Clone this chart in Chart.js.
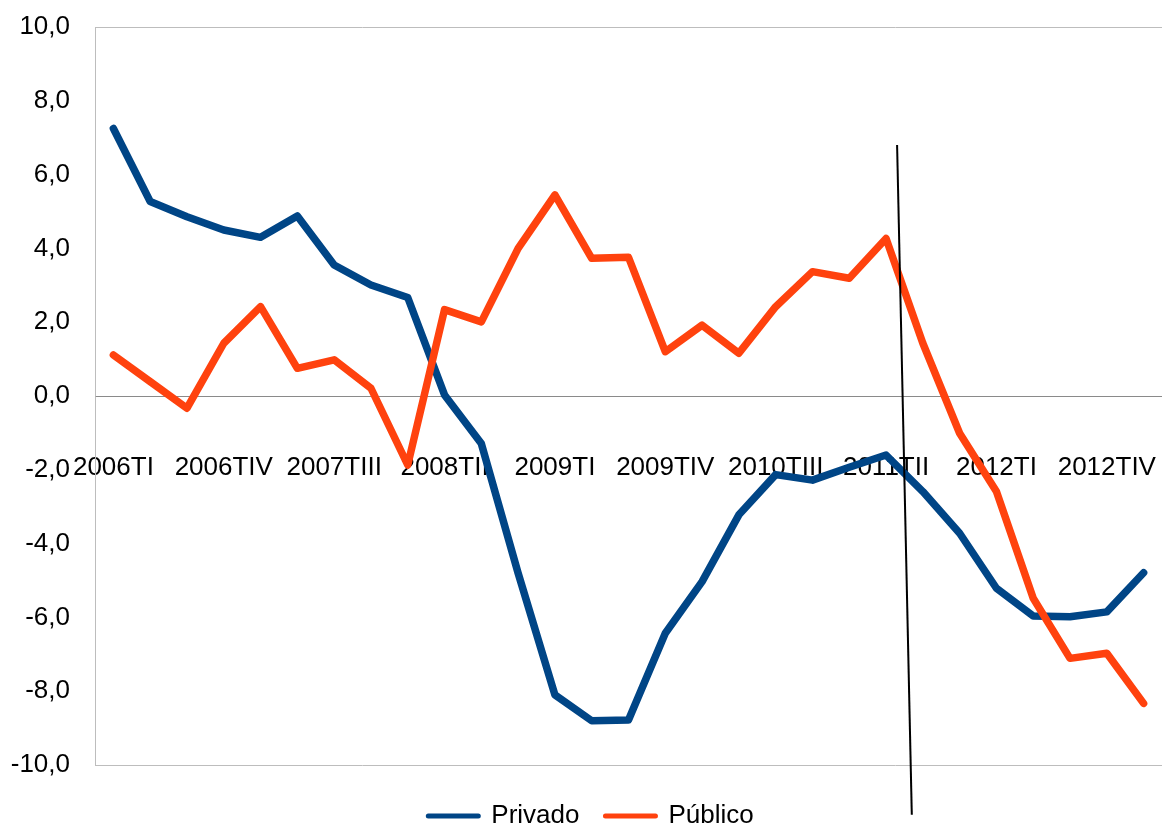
<!DOCTYPE html>
<html>
<head>
<meta charset="utf-8">
<script src="https://cdn.jsdelivr.net/npm/chart.js@4.4.0/dist/chart.umd.min.js"></script>
<style>
  html, body { margin: 0; padding: 0; background: #fff; overflow: hidden; }
</style>
</head>
<body>
<canvas id="myChart" width="1162" height="829"></canvas>
<script>
var quarters = [
  "2006TI", "2006TII", "2006TIII", "2006TIV",
  "2007TI", "2007TII", "2007TIII", "2007TIV",
  "2008TI", "2008TII", "2008TIII", "2008TIV",
  "2009TI", "2009TII", "2009TIII", "2009TIV",
  "2010TI", "2010TII", "2010TIII", "2010TIV",
  "2011TI", "2011TII", "2011TIII", "2011TIV",
  "2012TI", "2012TII", "2012TIII", "2012TIV",
  "2013TI"
];

var privado = [7.25, 5.27, 4.86, 4.50, 4.30, 4.88, 3.55, 3.01, 2.67, 0.03,
  -1.29, -4.80, -8.10, -8.80, -8.78, -6.43, -5.03, -3.22, -2.13, -2.28,
  -1.93, -1.60, -2.59, -3.72, -5.21, -5.96, -5.98, -5.85, -4.79];

var publico = [1.11, 0.39, -0.33, 1.43, 2.42, 0.75, 0.98, 0.21, -1.87, 2.34,
  2.01, 4.00, 5.45, 3.73, 3.76, 1.20, 1.92, 1.16, 2.42, 3.37,
  3.19, 4.27, 1.43, -1.01, -2.59, -5.48, -7.11, -6.97, -8.33];

var yTicks = [-10, -8, -6, -4, -2, 0, 2, 4, 6, 8, 10];

// hand drawn divider line (category index, value) at both ends
var cutX = [21.3, 21.7];
var cutY = [6.8, -11.35];

Chart.defaults.font.family = "'Liberation Sans', Arial, sans-serif";
Chart.defaults.color = "#000";

var cutLinePlugin = {
  id: "cutLine",
  afterLayout: function(chart) {
    // legend sits a bit right of the canvas centre in the original
    chart.legend.left += 10;
    chart.legend.right += 10;
  },
  afterDraw: function(chart) {
    var xs = chart.scales.x;
    var ys = chart.scales.y;
    var ctx = chart.ctx;
    ctx.save();
    ctx.strokeStyle = "#000";
    ctx.lineWidth = 2;
    ctx.beginPath();
    ctx.moveTo(xs.getPixelForValue(cutX[0]), ys.getPixelForValue(cutY[0]));
    ctx.lineTo(xs.getPixelForValue(cutX[1]), ys.getPixelForValue(cutY[1]));
    ctx.stroke();
    ctx.restore();
  }
};

var ctx = document.getElementById("myChart").getContext("2d");
var myChart = new Chart(ctx, {
  type: "line",
  data: {
    labels: quarters,
    datasets: [
      {
        label: "Privado",
        data: privado,
        borderColor: "#004586",
        backgroundColor: "#004586",
        borderWidth: 7.5,
        borderJoinStyle: "round",
        borderCapStyle: "round",
        pointRadius: 0,
        tension: 0,
        order: 1
      },
      {
        label: "Público",
        data: publico,
        borderColor: "#ff420e",
        backgroundColor: "#ff420e",
        borderWidth: 7.5,
        borderJoinStyle: "round",
        borderCapStyle: "round",
        pointRadius: 0,
        tension: 0,
        order: 0
      }
    ]
  },
  options: {
    responsive: false,
    animation: false,
    layout: {
      padding: { left: 0, right: 0, top: 27, bottom: -10 }
    },
    plugins: {
      tooltip: { enabled: false },
      legend: {
        position: "bottom",
        title: { display: true, text: " ", font: { size: 10 }, padding: 0 },
        labels: {
          usePointStyle: true,
          pointStyle: "line",
          pointStyleWidth: 50,
          padding: 26,
          color: "#000",
          font: { size: 26 },
          sort: function(a, b) { return a.datasetIndex - b.datasetIndex; },
          generateLabels: function(chart) {
            var items = Chart.defaults.plugins.legend.labels.generateLabels(chart);
            items.forEach(function(it) {
              it.lineWidth = 5;
              it.lineCap = "round";
            });
            return items;
          }
        }
      }
    },
    scales: {
      x: {
        position: { y: 0 },
        offset: true,
        afterFit: function(scale) {
          scale.paddingLeft = 0;
          scale.paddingRight = 0;
        },
        grid: { display: false, drawTicks: false },
        border: { display: true, color: "#8a8a8a", width: 1 },
        ticks: {
          autoSkip: false,
          maxRotation: 0,
          padding: 56,
          font: { size: 26 },
          color: "#000",
          callback: function(val, idx) {
            return idx % 3 === 0 ? quarters[idx] : "";
          }
        }
      },
      y: {
        min: yTicks[0],
        max: yTicks[yTicks.length - 1],
        afterFit: function(scale) {
          scale.width = 95;
          scale.paddingTop = 0;
          scale.paddingBottom = 0;
        },
        afterBuildTicks: function(scale) {
          scale.ticks = yTicks.map(function(v) { return { value: v }; });
        },
        grid: {
          drawTicks: false,
          color: function(c) {
            if (c.tick && (c.tick.value === 10 || c.tick.value === -10)) return "#bdbdbd";
            return "rgba(0,0,0,0)";
          }
        },
        border: { display: true, color: "#bdbdbd", width: 1 },
        ticks: {
          padding: 25,
          font: { size: 26 },
          color: "#000",
          callback: function(v) { return v.toFixed(1).replace(".", ","); }
        }
      }
    }
  },
  plugins: [cutLinePlugin]
});
</script>
</body>
</html>
